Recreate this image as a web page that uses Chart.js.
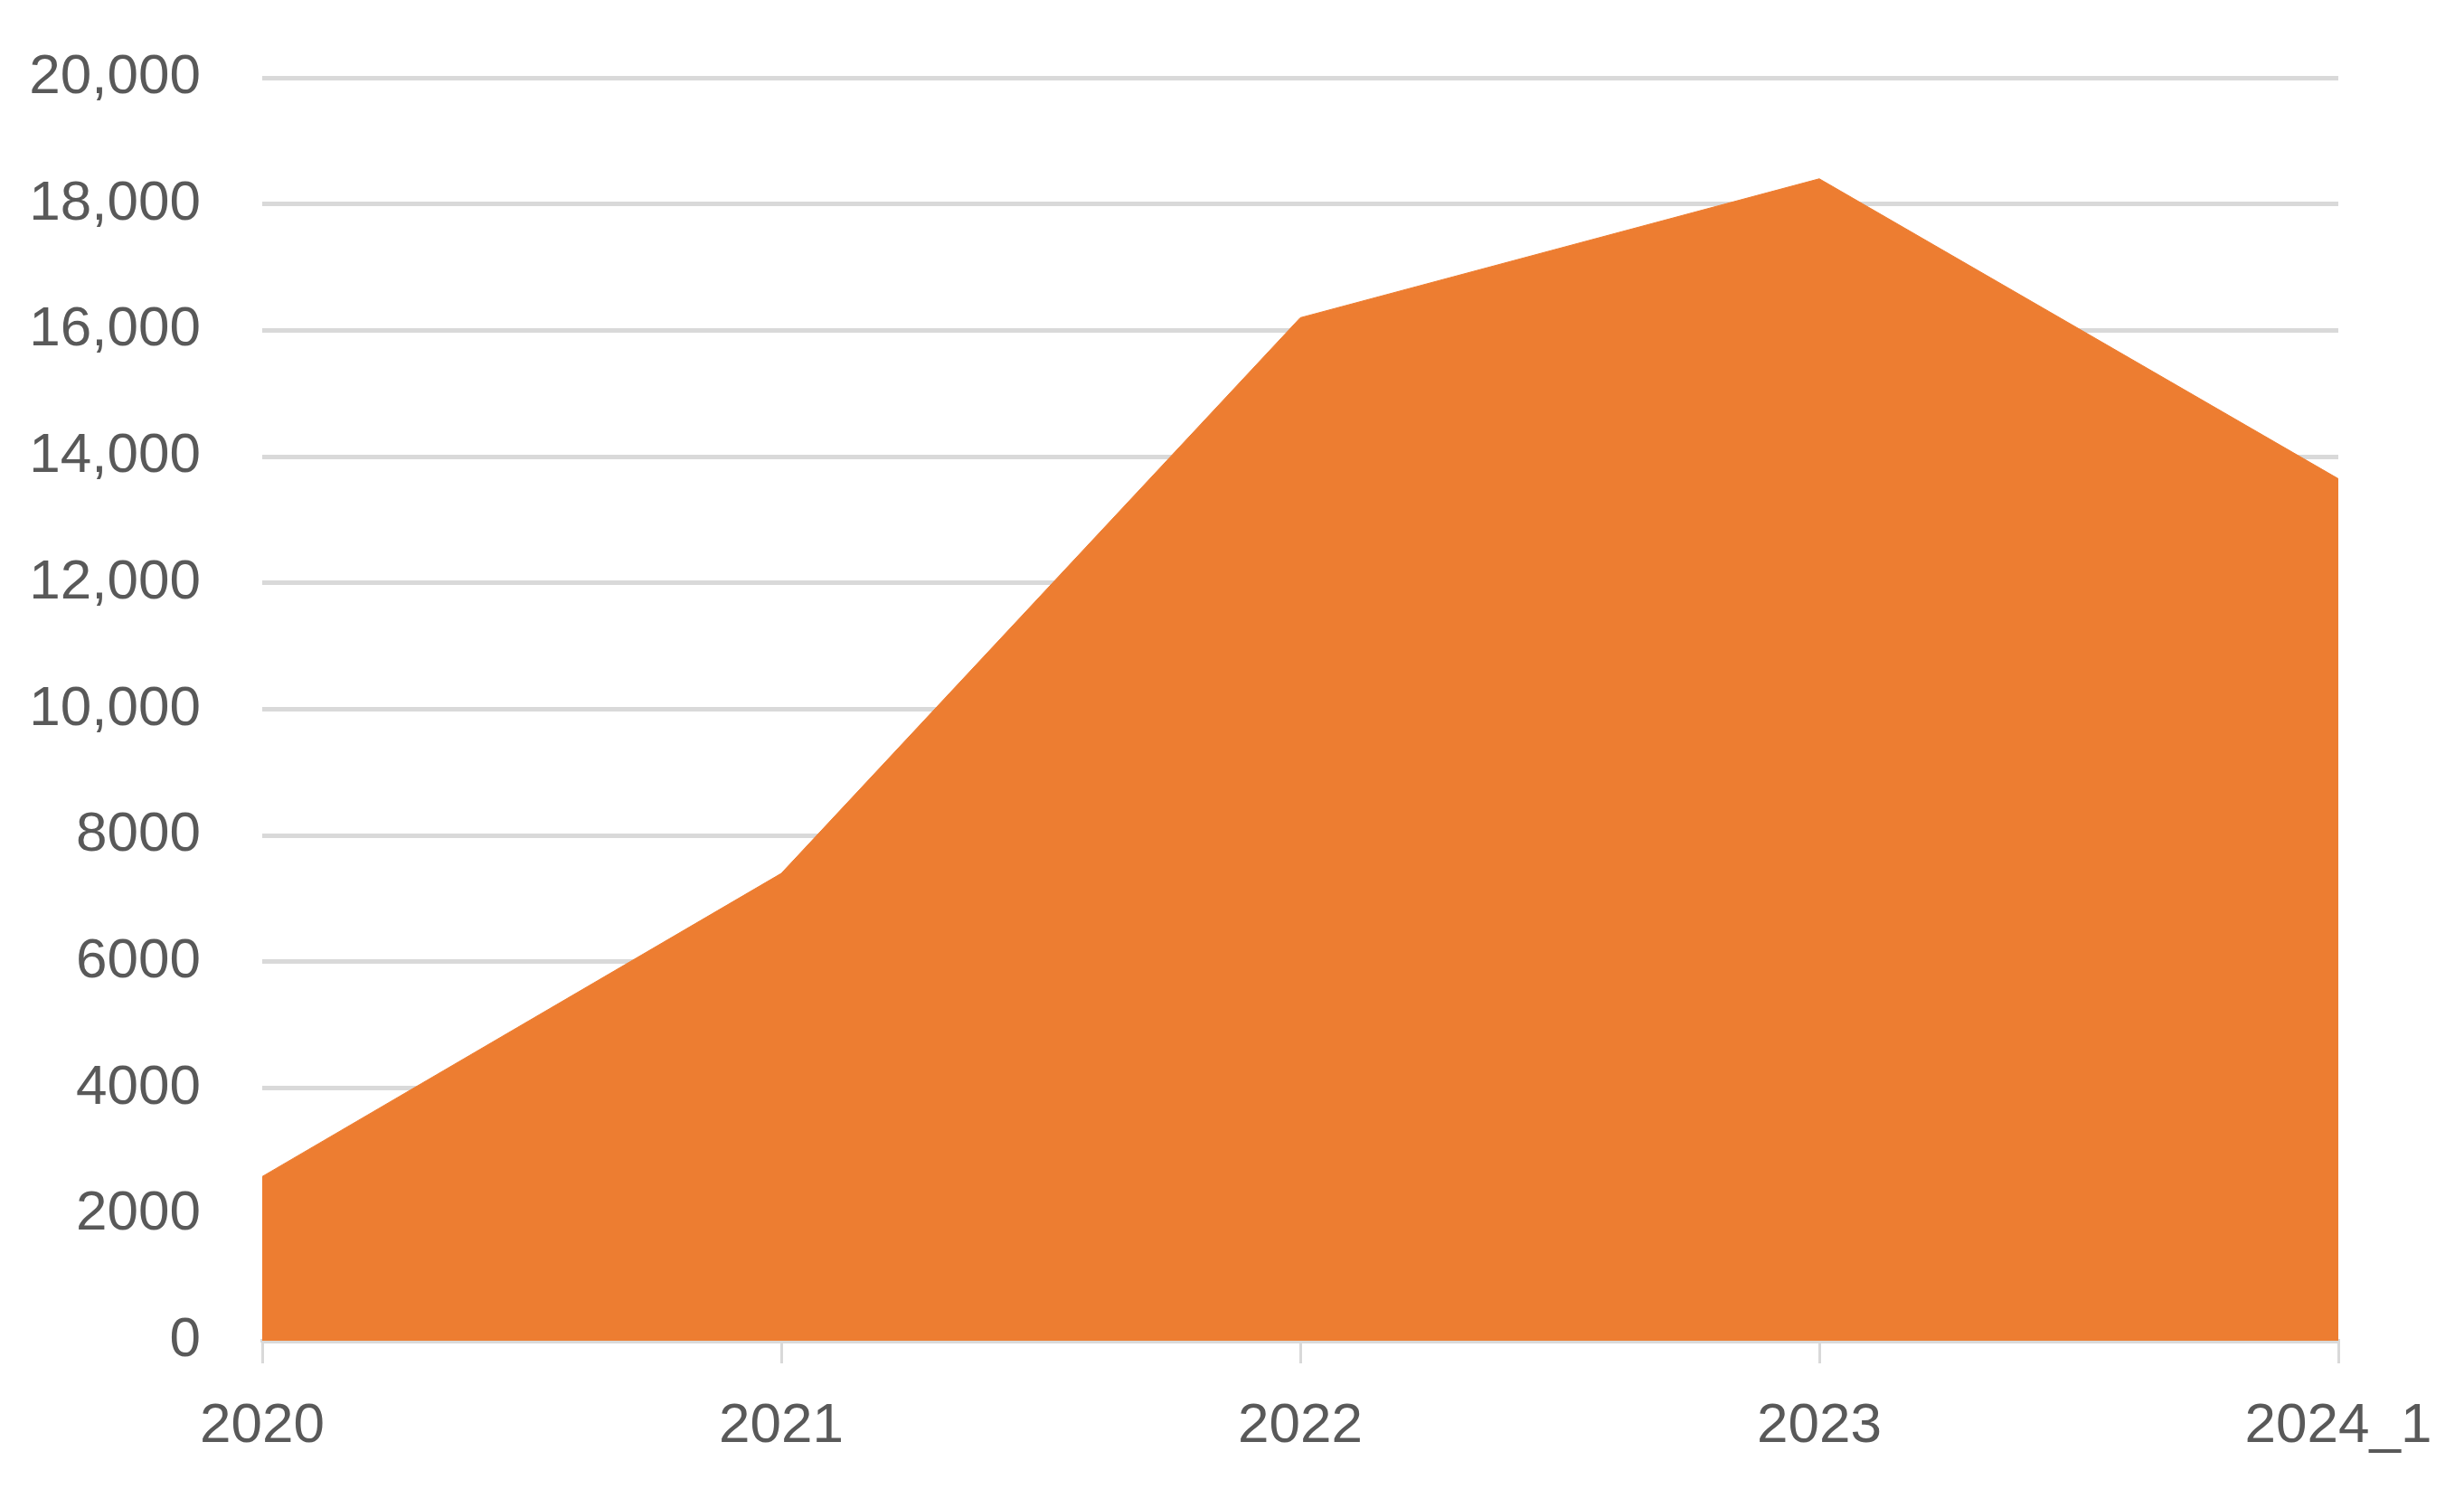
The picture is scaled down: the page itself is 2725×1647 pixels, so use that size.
<!DOCTYPE html>
<html>
<head>
<meta charset="utf-8">
<script src="https://cdn.jsdelivr.net/npm/chart.js@4"></script>
<style>
  html, body { margin: 0; padding: 0; background: #ffffff; }
  #wrap { width: 2725px; height: 1647px; }
</style>
</head>
<body>
<div id="wrap"><canvas id="myChart" width="2725" height="1647"></canvas></div>
<script>
// values
const years = ['2020', '2021', '2022', '2023', '2024_1'];
const counts = [2600, 7400, 16200, 18400, 13650];
const yTickLabels = ['0', '2000', '4000', '6000', '8000', '10,000', '12,000', '14,000', '16,000', '18,000', '20,000'];

function myLoadFunction() {
    const ctx = document.getElementById('myChart').getContext('2d');
    var myChartConfig = {
        type: 'line',
        data: {
            labels: years,
            datasets: [{
                data: counts,
                fill: 'origin',
                backgroundColor: '#ED7D31',
                borderColor: '#ED7D31',
                borderWidth: 1,
                pointRadius: 0,
                tension: 0
            }]
        },
        options: {
            responsive: false,
            animation: false,
            layout: {
                padding: { top: 86, right: 139, bottom: 0, left: 0 }
            },
            plugins: {
                legend: { display: false },
                tooltip: { enabled: false }
            },
            scales: {
                x: {
                    offset: false,
                    grid: {
                        display: true,
                        drawOnChartArea: false,
                        drawTicks: true,
                        tickLength: 25,
                        color: '#D9D9D9',
                        lineWidth: 3
                    },
                    border: { display: true, color: '#D9D9D9', width: 4 },
                    ticks: {
                        color: '#595959',
                        padding: 33,
                        maxRotation: 0,
                        autoSkip: false,
                        font: { family: '"Liberation Sans", Arial, sans-serif', size: 62 }
                    },
                    afterFit: function (axis) { axis.height = 164; }
                },
                y: {
                    min: 0,
                    max: 20000,
                    grid: {
                        color: '#D9D9D9',
                        lineWidth: 5,
                        drawTicks: false
                    },
                    border: { display: false },
                    ticks: {
                        stepSize: 2000,
                        color: '#595959',
                        padding: 68,
                        font: { family: '"Liberation Sans", Arial, sans-serif', size: 62 },
                        callback: function (value) { return yTickLabels[Math.round(value / 2000)]; }
                    },
                    afterFit: function (axis) {
                        axis.width = 290;
                        axis.paddingTop = 0;
                    }
                }
            }
        }
    };
    const myChart = new Chart(ctx, myChartConfig);
}

document.addEventListener('DOMContentLoaded', myLoadFunction);
</script>
</body>
</html>
